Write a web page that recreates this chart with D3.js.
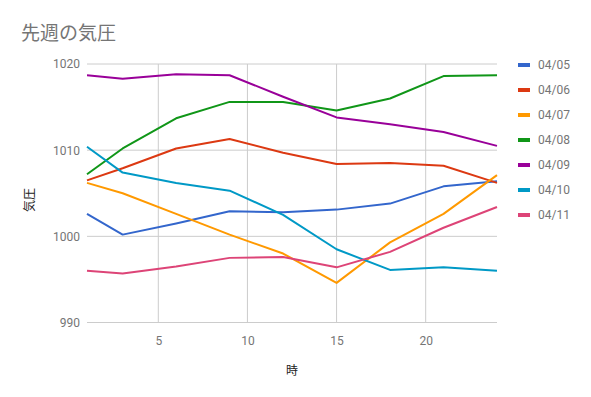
<!DOCTYPE html>
<html>
<head>
<meta charset="utf-8">
<script src="https://cdn.jsdelivr.net/npm/d3@7"></script>
<style>
  body { margin: 0; background: #fff; }
  text { font-family: Roboto, "Noto Sans CJK JP", sans-serif; }
</style>
</head>
<body>
<div id="here"></div>
<script>
var w = 591, h = 397;

var hours = [1, 3, 6, 9, 12, 15, 18, 21, 24];
var days = ['04/05', '04/06', '04/07', '04/08', '04/09', '04/10', '04/11'];
var colors = ['#3366cc', '#dc3912', '#ff9900', '#109618', '#990099', '#0099c6', '#dd4477'];

var p0405 = [1002.6, 1000.2, 1001.5, 1002.9, 1002.8, 1003.1, 1003.8, 1005.8, 1006.4];
var p0406 = [1006.5, 1007.9, 1010.2, 1011.3, 1009.7, 1008.4, 1008.5, 1008.2, 1006.2];
var p0407 = [1006.2, 1005.0, 1002.6, 1000.2, 998.0, 994.6, 999.3, 1002.6, 1007.1];
var p0408 = [1007.2, 1010.2, 1013.7, 1015.6, 1015.6, 1014.6, 1016.0, 1018.6, 1018.7];
var p0409 = [1018.7, 1018.3, 1018.8, 1018.7, 1016.2, 1013.8, 1013.0, 1012.1, 1010.5];
var p0410 = [1010.4, 1007.4, 1006.2, 1005.3, 1002.5, 998.5, 996.1, 996.4, 996.0];
var p0411 = [996.0, 995.7, 996.5, 997.5, 997.6, 996.4, 998.2, 1001.0, 1003.4];

var yTicks = [990, 1000, 1010, 1020];
var xTicks = [5, 10, 15, 20];

var series = [p0405, p0406, p0407, p0408, p0409, p0410, p0411].map(function(vals, i) {
  return { name: days[i], color: colors[i], values: vals };
});

var x = d3.scaleLinear().domain([1, 24]).range([87, 497]);
var y = d3.scaleLinear().domain([990, 1020]).range([322.5, 64]);

var svg = d3.select('#here').append('svg')
  .attr('width', w)
  .attr('height', h)
  .style('display', 'block');

// title
svg.append('text')
  .attr('x', 21)
  .attr('y', 40)
  .attr('fill', '#757575')
  .style('font-size', '19px')
  .text('先週の気圧');

// gridlines
svg.append('g').selectAll('line')
  .data(yTicks)
  .enter().append('line')
  .attr('x1', x(1)).attr('x2', x(24))
  .attr('y1', function(d) { return y(d); })
  .attr('y2', function(d) { return y(d); })
  .attr('stroke', '#cccccc');

svg.append('g').selectAll('line')
  .data(xTicks)
  .enter().append('line')
  .attr('x1', function(d) { return x(d); })
  .attr('x2', function(d) { return x(d); })
  .attr('y1', y(990)).attr('y2', y(1020))
  .attr('stroke', '#cccccc');

// axes (text only)
var yAxis = d3.axisLeft(y).tickValues(yTicks).tickFormat(d3.format('d')).tickSize(0).tickPadding(7);
svg.append('g')
  .attr('transform', 'translate(' + x(1) + ',0)')
  .call(yAxis)
  .call(function(g) { g.select('.domain').remove(); })
  .selectAll('text')
  .attr('fill', '#757575')
  .style('font-size', '12px');

var xAxis = d3.axisBottom(x).tickValues(xTicks).tickSize(0).tickPadding(14);
svg.append('g')
  .attr('transform', 'translate(0,' + y(990) + ')')
  .call(xAxis)
  .call(function(g) { g.select('.domain').remove(); })
  .selectAll('text')
  .attr('fill', '#757575')
  .style('font-size', '12px');

// axis titles
svg.append('text')
  .attr('x', (x(1) + x(24)) / 2)
  .attr('y', 375)
  .attr('text-anchor', 'middle')
  .attr('fill', '#222')
  .style('font-size', '12px')
  .text('時');

svg.append('text')
  .attr('transform', 'translate(34,200) rotate(-90)')
  .attr('text-anchor', 'middle')
  .attr('fill', '#222')
  .style('font-size', '12px')
  .text('気圧');

// lines
var line = d3.line()
  .x(function(d, i) { return x(hours[i]); })
  .y(function(d) { return y(d); });

svg.append('g').selectAll('path')
  .data(series)
  .enter().append('path')
  .attr('d', function(d) { return line(d.values); })
  .attr('fill', 'none')
  .attr('stroke', function(d) { return d.color; })
  .attr('stroke-width', 2)
  .attr('stroke-linejoin', 'round');

// legend
var lg = svg.append('g').selectAll('g')
  .data(series)
  .enter().append('g')
  .attr('transform', function(d, i) { return 'translate(518,' + (65 + i * 25) + ')'; });

lg.append('rect')
  .attr('x', 0).attr('y', -2)
  .attr('width', 12).attr('height', 4)
  .attr('fill', function(d) { return d.color; });

lg.append('text')
  .attr('x', 20)
  .attr('y', 0)
  .attr('dy', '0.35em')
  .attr('fill', '#757575')
  .style('font-size', '12px')
  .text(function(d) { return d.name; });
</script>
</body>
</html>
